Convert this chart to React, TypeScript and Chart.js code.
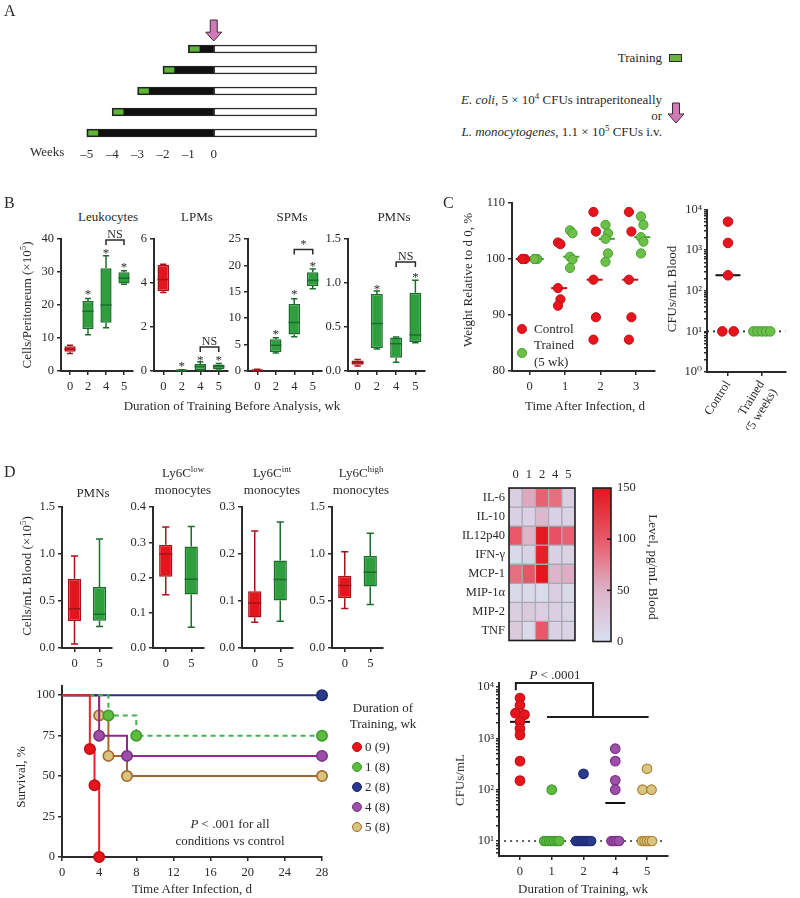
import React, { useEffect, useRef } from 'react';
import { Chart, registerables } from 'chart.js';

Chart.register(...registerables);

const FONT = "'Liberation Serif', 'DejaVu Serif', serif";
const INK = '#2a2a2a';
Chart.defaults.font.family = FONT;
Chart.defaults.color = INK;

/* ================= DATA ================= */
// Panel A – training schedule (weeks relative to infection)
const scheduleStartWk = [-1, -2, -3, -4, -5];
const trainingMarkWk = 0.42;
const followUpWk = 4.05;
const weekTicks = [-5, -4, -3, -2, -1, 0];

// Panel B – peritoneal cells, box stats [min, q1, median, q3, max]
const bWeeks = ['0', '2', '4', '5'];
const bLeukocytes = [[5.3, 5.8, 6.6, 7.5, 7.8], [11, 12.7, 18.1, 21.2, 22], [13.1, 14.6, 20, 31.1, 34.9], [26.3, 26.5, 28.1, 29.9, 30.4]];
const bLPMs = [[3.57, 3.63, 4.16, 4.82, 4.85], [0, 0.01, 0.03, 0.05, 0.06], [0.02, 0.05, 0.2, 0.32, 0.42], [0.05, 0.08, 0.2, 0.3, 0.34]];
const bSPMs = [[0, 0.05, 0.15, 0.3, 0.35], [3.4, 3.6, 4.9, 6.0, 6.3], [6.5, 6.9, 9.2, 12.7, 13.7], [15.6, 16.1, 17.2, 18.7, 19.3]];
const bPMNs = [[0.057, 0.07, 0.095, 0.12, 0.13], [0.25, 0.26, 0.54, 0.875, 0.91], [0.1, 0.15, 0.31, 0.38, 0.385], [0.32, 0.33, 0.41, 0.89, 1.03]];
const bLeukStars = [null, 24, 36.5, 32.2];
const bLPMStars = [null, 0.32, 0.6, 0.6];
const bSPMStars = [null, 7.5, 15.0, 20.4];
const bPMNStars = [null, 0.957, null, 1.09];

// Panel C – weight and blood CFUs
const infectionDays = [0, 1, 2, 3];
const weightControl = [[100, 100, 100, 100, 100], [102.95, 102.65, 94.8, 92.8, 91.65], [108.4, 104.9, 96.3, 89.6, 85.6], [108.4, 104.9, 96.3, 89.6, 85.6]];
const weightTrained = [[100, 100, 100, 100, 100], [105.1, 104.6, 100.4, 99.9, 98.4], [106.1, 104.6, 103.6, 101.0, 99.5], [107.6, 106.1, 103.9, 103.1, 101.0]];
const bloodGroups = ['Control', 'Trained (5 weeks)'];
const bloodControl = [5000, 1500, 240, 10, 10];
const bloodTrained = [10, 10, 10, 10, 10];
const detectionLimit = 10;

// Panel D – blood cells, box stats [min, q1, median, q3, max]
const dWeeks = ['0', '5'];
const dPMNs = [[0.043, 0.286, 0.418, 0.736, 0.98], [0.23, 0.29, 0.36, 0.65, 1.16]];
const dLy6CLow = [[0.151, 0.202, 0.267, 0.293, 0.343], [0.059, 0.152, 0.195, 0.288, 0.345]];
const dLy6CInt = [[0.055, 0.065, 0.096, 0.121, 0.249], [0.057, 0.101, 0.146, 0.186, 0.268]];
const dLy6CHigh = [[0.421, 0.529, 0.664, 0.768, 1.025], [0.464, 0.654, 0.807, 0.979, 1.22]];

// Panel D – cytokine heatmap (pg/mL)
const cytokines = ['IL-6', 'IL-10', 'IL12p40', 'IFN-γ', 'MCP-1', 'MIP-1α', 'MIP-2', 'TNF'];
const heatWeeks = ['0', '1', '2', '4', '5'];
const cytokineLevels = [
  [18, 55, 95, 88, 18],
  [15, 15, 45, 15, 14],
  [100, 48, 148, 105, 95],
  [8, 14, 142, 15, 14],
  [88, 102, 150, 48, 52],
  [8, 8, 5, 18, 8],
  [20, 24, 20, 18, 12],
  [25, 8, 100, 16, 14],
];
const levelTicks = [0, 50, 100, 150];

// Panel D – survival
const survivalLabels = ['0 (9)', '1 (8)', '2 (8)', '4 (8)', '5 (8)'];
const survivalDays = [[0, 3, 3.5, 4], [0, 5, 8, 28], [0, 28], [0, 4, 7, 28], [0, 4, 5, 7, 28]];
const survivalPct = [[100, 66.7, 44.4, 0], [100, 87.5, 75, 75], [100, 100], [100, 75, 62.5, 62.5], [100, 87.5, 62.5, 50, 50]];
const survivalDayTicks = [0, 4, 8, 12, 16, 20, 24, 28];
const survivalPctTicks = [0, 25, 50, 75, 100];

// Panel D – bacterial load
const cfuGroupLabels = ['0', '1', '2', '4', '5'];
const cfuWeek0 = [6100, 4400, 3100, 2900, 2100, 1550, 1170, 360, 150];
const cfuWeek1 = [100, 10, 10, 10, 10, 10, 10, 10];
const cfuWeek2 = [204, 10, 10, 10, 10, 10, 10, 10];
const cfuWeek4 = [630, 360, 152, 100, 10, 10, 10, 10];
const cfuWeek5 = [256, 100, 100, 10, 10, 10, 10, 10];

/* ================= STYLE ================= */
const RED = '#e3161e', RED_D = '#a5121a';
const GREEN = '#2f9f3e', GREEN_D = '#1b6d2b';
const groupFill = ['#e8141c', '#5dbb3f', '#2c3a8e', '#9c4fa6', '#d9c47e'];
const groupEdge = ['#bf1018', '#3f9a2c', '#1e2a70', '#7a2f88', '#a87f32'];
const survLine = ['#ee2128', '#3db54a', '#2e3192', '#92278f', '#a1682a'];
const SUP = ['⁰', '¹', '²', '³', '⁴'];

type Rect = { l: number; t: number; w: number; h: number };
type Plot = { x0: number; y0: number; x1: number; y1: number };

function lay(c: Rect, p: Plot) {
  return {
    padding: { left: 0, top: p.y0 - c.t, right: c.l + c.w - p.x1, bottom: 0 },
    yW: p.x0 - c.l,
    xH: c.t + c.h - p.y1,
  };
}
const fixTicks = (vals: number[]) => (a: any) => { a.ticks = vals.map((v) => ({ value: v })); };
const fixW = (w: number) => (a: any) => { a.width = w; };
const fixH = (h: number) => (a: any) => { a.height = h; };

function axis(o: any) {
  const { ticks = {}, grid = {}, border = {}, ...rest } = o;
  return {
    grid: { display: true, drawOnChartArea: false, drawTicks: true, tickLength: 4, color: INK, lineWidth: 1.5, ...grid },
    border: { display: true, color: INK, width: 2, ...border },
    ticks: { color: INK, font: { family: FONT, size: 12.5 }, padding: 3, autoSkip: false, maxRotation: 0, ...ticks },
    ...rest,
  };
}
function baseOptions(padding: any, scales: any, extra: any = {}) {
  return {
    responsive: false, maintainAspectRatio: false, animation: false, devicePixelRatio: 1, events: [],
    layout: { padding },
    plugins: { legend: { display: false }, tooltip: { enabled: false } },
    scales, ...extra,
  };
}
const median = (arr: number[]) => {
  const s = [...arr].sort((a, b) => a - b);
  const m = Math.floor(s.length / 2);
  return s.length % 2 ? s[m] : (s[m - 1] + s[m]) / 2;
};
function logTicks(from: number, to: number) {
  const out: number[] = [];
  for (let e = 0; e <= 4; e++) for (let m = 1; m <= 9; m++) { const v = m * Math.pow(10, e); if (v >= from - 1e-9 && v <= to + 1e-9) out.push(v); }
  return out;
}
const logLabel = (v: any) => {
  const l = Math.log10(Number(v));
  return Math.abs(l - Math.round(l)) < 1e-6 ? '10' + SUP[Math.round(l)] : '';
};
// spreads points that share (nearly) the same value side by side
function spreadOffsets(values: number[], tol: number, pairStep: number, multiStep: number) {
  const out = values.map(() => 0);
  const used = values.map(() => false);
  for (let i = 0; i < values.length; i++) {
    if (used[i]) continue;
    const grp: number[] = [];
    for (let j = i; j < values.length; j++) {
      if (!used[j] && Math.abs(Math.log10(values[j]) - Math.log10(values[i])) <= tol) { grp.push(j); used[j] = true; }
    }
    const step = grp.length === 2 ? pairStep : multiStep;
    grp.forEach((j, k) => { out[j] = (k - (grp.length - 1) / 2) * step; });
  }
  return out;
}

/* ================= PLUGINS ================= */
function drawDownArrow(ctx: any, x: number, y0: number, y1: number, shaftW: number, headW: number) {
  const headH = (y1 - y0) * 0.42;
  ctx.save();
  ctx.beginPath();
  ctx.moveTo(x - shaftW / 2, y0); ctx.lineTo(x + shaftW / 2, y0); ctx.lineTo(x + shaftW / 2, y1 - headH);
  ctx.lineTo(x + headW / 2, y1 - headH); ctx.lineTo(x, y1); ctx.lineTo(x - headW / 2, y1 - headH);
  ctx.lineTo(x - shaftW / 2, y1 - headH); ctx.closePath();
  ctx.fillStyle = '#d27ab6'; ctx.fill();
  ctx.strokeStyle = '#3b2b38'; ctx.lineWidth = 1; ctx.stroke();
  ctx.restore();
}
const arrowPlugin = {
  id: 'arrowA',
  afterDraw(chart: any) {
    const x = chart.scales.x.getPixelForValue(0);
    const top = chart.chartArea.top;
    drawDownArrow(chart.ctx, x, top - 18.5, top + 2.5, 7, 16);
  },
};
function whiskerPlugin(stats: number[][], edges: string[]) {
  return {
    id: 'whiskers',
    afterDatasetsDraw(chart: any) {
      const meta = chart.getDatasetMeta(0);
      const y = chart.scales.y;
      const ctx = chart.ctx;
      ctx.save();
      meta.data.forEach((bar: any, i: number) => {
        const s = stats[i];
        const { x, width } = bar.getProps(['x', 'width'], true);
        const p = s.map((v) => y.getPixelForValue(v));
        ctx.strokeStyle = edges[i];
        ctx.lineWidth = 1.5;
        ctx.beginPath();
        ctx.moveTo(x, p[3]); ctx.lineTo(x, p[4]);
        ctx.moveTo(x - width * 0.27, p[4]); ctx.lineTo(x + width * 0.27, p[4]);
        ctx.moveTo(x, p[1]); ctx.lineTo(x, p[0]);
        ctx.moveTo(x - width * 0.27, p[0]); ctx.lineTo(x + width * 0.27, p[0]);
        ctx.moveTo(x - width / 2, p[2]); ctx.lineTo(x + width / 2, p[2]);
        ctx.stroke();
      });
      ctx.restore();
    },
  };
}
function markPlugin(stars: (number | null)[], bracket: any) {
  return {
    id: 'marks',
    afterDraw(chart: any) {
      const xs = chart.scales.x, ys = chart.scales.y, ctx = chart.ctx;
      ctx.save();
      ctx.fillStyle = INK; ctx.strokeStyle = INK; ctx.lineWidth = 1.5;
      ctx.font = `13px ${FONT}`; ctx.textAlign = 'center'; ctx.textBaseline = 'alphabetic';
      stars.forEach((v, i) => { if (v !== null) ctx.fillText('*', xs.getPixelForValue(i), ys.getPixelForValue(v) + 6.4); });
      if (bracket) {
        const x1 = xs.getPixelForValue(bracket.a), x2 = xs.getPixelForValue(bracket.b), yy = ys.getPixelForValue(bracket.v);
        ctx.beginPath(); ctx.moveTo(x1, yy + 5); ctx.lineTo(x1, yy); ctx.lineTo(x2, yy); ctx.lineTo(x2, yy + 5); ctx.stroke();
        ctx.font = `12px ${FONT}`;
        ctx.fillText(bracket.text, (x1 + x2) / 2, yy - 2);
      }
      ctx.restore();
    },
  };
}
function framePlugin(tickVals: number[] = []) {
  return {
    id: 'frame',
    afterDatasetsDraw(chart: any) {
      const { left, top, right, bottom } = chart.chartArea;
      const ctx = chart.ctx;
      ctx.save();
      ctx.strokeStyle = '#1e1e1e'; ctx.lineWidth = 1.6;
      ctx.strokeRect(left, top, right - left, bottom - top);
      tickVals.forEach((v) => {
        const y = chart.scales.y.getPixelForValue(v);
        ctx.beginPath(); ctx.moveTo(right - 4, y); ctx.lineTo(right, y); ctx.stroke();
      });
      ctx.restore();
    },
  };
}

/* ================= CONFIGS ================= */
function scheduleConfig() {
  return {
    type: 'bar',
    data: {
      labels: scheduleStartWk.map((_, i) => String(i)),
      datasets: [
        { data: scheduleStartWk.map((s) => [s + 0.04, s + 0.04 + trainingMarkWk]), backgroundColor: '#5fb43c', borderColor: '#1d3a12', borderWidth: 0.8, borderSkipped: false, barThickness: 6, grouped: false, order: 0 },
        { data: scheduleStartWk.map((s) => [s, 0]), backgroundColor: '#111111', borderColor: '#2a2a2a', borderWidth: 1, borderSkipped: false, barThickness: 8, grouped: false, order: 1 },
        { data: scheduleStartWk.map(() => [0, followUpWk]), backgroundColor: '#ffffff', borderColor: '#2a2a2a', borderWidth: 1.5, borderSkipped: false, barThickness: 8, grouped: false, order: 2 },
      ],
    },
    options: baseOptions({ left: 69, right: 7, top: 28.5, bottom: 0 }, {
      x: {
        type: 'linear', min: -5.7, max: 4.5,
        grid: { display: false, drawTicks: false }, border: { display: false },
        ticks: { color: INK, font: { family: FONT, size: 13 }, padding: 3, callback: (v: any) => (v < 0 ? '–' + Math.abs(v) : String(v)) },
        afterBuildTicks: fixTicks(weekTicks), afterFit: fixH(21.5),
      },
      y: { type: 'category', display: false },
    }, { indexAxis: 'y' }),
    plugins: [arrowPlugin],
  };
}

function boxConfig(p: any) {
  const L = lay(p.rect, p.plot);
  const fills = p.stats.map((_: any, i: number) => (i === 0 ? p.c0 : p.c1));
  const edges = p.stats.map((_: any, i: number) => (i === 0 ? p.e0 : p.e1));
  return {
    type: 'bar',
    data: {
      labels: p.labels,
      datasets: [{
        data: p.stats.map((s: number[]) => [s[1], s[3]]),
        backgroundColor: fills, borderColor: edges, borderWidth: 1.5, borderSkipped: false,
        barPercentage: p.barPct, categoryPercentage: 1,
      }],
    },
    options: baseOptions(L.padding, {
      x: axis({ grid: { offset: false }, afterFit: fixH(L.xH), ticks: { padding: 4 } }),
      y: axis({ min: p.min, max: p.max, afterBuildTicks: fixTicks(p.ticks), afterFit: fixW(L.yW), ticks: { callback: (v: any) => Number(v).toFixed(p.dec) } }),
    }),
    plugins: [whiskerPlugin(p.stats, edges), markPlugin(p.stars || [], p.bracket)],
  };
}

function weightConfig() {
  const R: Rect = { l: 450, t: 190, w: 215, h: 200 };
  const L = lay(R, { x0: 512, y0: 203, x1: 657, y1: 371 });
  const pts = (set: number[][], off: number) =>
    set.flatMap((vals, d) => vals.map((v, j) => ({ x: infectionDays[d] + off + (j % 2 ? 0.035 : -0.035), y: v })));
  const meds = (set: number[][], off: number) => set.map((vals, d) => ({ x: infectionDays[d] + off, y: median(vals) }));
  return {
    type: 'scatter',
    data: {
      datasets: [
        { data: pts(weightControl, -0.17), pointRadius: 4.6, pointBorderWidth: 1, pointBackgroundColor: '#e8141c', pointBorderColor: '#c0101a', order: 0 },
        { data: pts(weightTrained, 0.17), pointRadius: 4.6, pointBorderWidth: 1, pointBackgroundColor: '#6cc04a', pointBorderColor: '#45a02f', order: 0 },
        { data: meds(weightControl, -0.17), pointStyle: 'line', pointRadius: 8, pointBorderWidth: 2, pointBorderColor: '#c0101a', order: 1 },
        { data: meds(weightTrained, 0.17), pointStyle: 'line', pointRadius: 8, pointBorderWidth: 2, pointBorderColor: '#45a02f', order: 1 },
      ],
    },
    options: baseOptions(L.padding, {
      x: axis({ type: 'linear', min: -0.5, max: 3.53, afterBuildTicks: fixTicks(infectionDays), afterFit: fixH(L.xH), ticks: { padding: 4 } }),
      y: axis({ type: 'linear', min: 80, max: 110, afterBuildTicks: fixTicks([80, 90, 100, 110]), afterFit: fixW(L.yW) }),
    }),
  };
}

function bloodConfig() {
  const R: Rect = { l: 675, t: 195, w: 125, h: 235 };
  const L = lay(R, { x0: 707, y0: 208, x1: 800, y1: 372 });
  const pxPerUnit = 40;
  const mk = (vals: number[], g: number) => {
    const off = spreadOffsets(vals, 0.05, 13.4, 5);
    return vals.map((v, j) => ({ x: g + off[j] / pxPerUnit, y: v }));
  };
  const medLines = [bloodControl, bloodTrained]
    .map((vals, g) => ({ x: g, y: median(vals) }))
    .filter((p) => p.y > detectionLimit);
  return {
    type: 'scatter',
    data: {
      datasets: [
        { data: mk(bloodControl, 0), pointRadius: 4.8, pointBorderWidth: 1, pointBackgroundColor: '#e8141c', pointBorderColor: '#c0101a', order: 0 },
        { data: mk(bloodTrained, 1), pointRadius: 4.8, pointBorderWidth: 1, pointBackgroundColor: '#6cc04a', pointBorderColor: '#45a02f', order: 0 },
        { data: medLines, pointStyle: 'line', pointRadius: 12.5, pointBorderWidth: 2, pointBorderColor: '#111', order: 1 },
        { data: [{ x: -0.62, y: detectionLimit }, { x: 1.7, y: detectionLimit }], showLine: true, pointRadius: 0, borderColor: INK, borderWidth: 1.6, borderDash: [2, 4], order: 2 },
      ],
    },
    options: baseOptions(L.padding, {
      x: axis({
        type: 'linear', min: -0.62, max: 1.7, afterBuildTicks: fixTicks([0, 1]), afterFit: fixH(L.xH),
        ticks: { minRotation: 58, maxRotation: 58, padding: 2, callback: (v: any) => (v === 0 ? bloodGroups[0] : ['Trained', '(5 weeks)']) },
      }),
      y: axis({
        type: 'logarithmic', min: 1, max: 10000, afterBuildTicks: fixTicks(logTicks(1, 10000)), afterFit: fixW(L.yW),
        grid: { tickLength: 3 }, ticks: { callback: logLabel, padding: 2 },
      }),
    }),
  };
}

function cmap(v: number) {
  const stops: [number, number[]][] = [[0, [216, 224, 240]], [50, [221, 178, 200]], [100, [232, 88, 104]], [150, [229, 20, 30]]];
  for (let i = 1; i < stops.length; i++) {
    if (v <= stops[i][0]) {
      const [a, ca] = stops[i - 1], [b, cb] = stops[i];
      const t = Math.max(0, (v - a) / (b - a));
      const c = ca.map((x, k) => Math.round(x + (cb[k] - x) * t));
      return `rgb(${c[0]},${c[1]},${c[2]})`;
    }
  }
  return 'rgb(229,20,30)';
}

function heatConfig() {
  const R: Rect = { l: 455, t: 462, w: 125, h: 190 };
  const P = { x0: 509, y0: 488, x1: 575, y1: 646 };
  return {
    type: 'bar',
    data: {
      labels: heatWeeks,
      datasets: cytokineLevels.map((row, r) => ({
        data: row.map(() => [r, r + 1]),
        backgroundColor: row.map((v) => cmap(v)),
        borderColor: '#a9a9b2', borderWidth: 1, borderSkipped: false,
        grouped: false, barPercentage: 1, categoryPercentage: 1,
      })),
    },
    options: baseOptions({ left: 0, top: 0, right: R.l + R.w - P.x1, bottom: R.t + R.h - P.y1 }, {
      x: { type: 'category', position: 'top', grid: { display: false, drawTicks: false }, border: { display: false }, ticks: { color: INK, font: { family: FONT, size: 12.5 }, padding: 6 }, afterFit: fixH(P.y0 - R.t) },
      y: {
        type: 'linear', min: 0, max: 8, reverse: true, grid: { display: false, drawTicks: false }, border: { display: false },
        afterBuildTicks: fixTicks(cytokines.map((_, i) => i + 0.5)), afterFit: fixW(P.x0 - R.l),
        ticks: { color: INK, font: { family: FONT, size: 12.5 }, padding: 4, autoSkip: false, callback: (v: any) => cytokines[Math.floor(Number(v))] },
      },
    }),
    plugins: [framePlugin()],
  };
}

function colorbarConfig() {
  const R: Rect = { l: 590, t: 470, w: 75, h: 185 };
  const P = { x0: 593, y0: 488, x1: 611, y1: 646 };
  return {
    type: 'bar',
    data: {
      labels: ['level'],
      datasets: [{
        data: [[levelTicks[0], levelTicks[levelTicks.length - 1]]],
        backgroundColor: (c: any) => {
          const area = c.chart.chartArea;
          if (!area) return '#ddd';
          const g = c.chart.ctx.createLinearGradient(0, area.bottom, 0, area.top);
          [0, 25, 50, 75, 100, 125, 150].forEach((v) => g.addColorStop(v / 150, cmap(v)));
          return g;
        },
        borderWidth: 0, barPercentage: 1, categoryPercentage: 1,
      }],
    },
    options: baseOptions({ left: P.x0 - R.l, top: P.y0 - R.t, right: 0, bottom: R.t + R.h - P.y1 }, {
      x: { type: 'category', display: false },
      y: {
        type: 'linear', position: 'right', min: 0, max: 150, grid: { display: false, drawTicks: false }, border: { display: false },
        afterBuildTicks: fixTicks(levelTicks), afterFit: fixW(R.l + R.w - P.x1),
        ticks: { color: INK, font: { family: FONT, size: 12.5 }, padding: 6 },
      },
    }),
    plugins: [framePlugin([50, 100])],
  };
}

function survivalConfig() {
  const R: Rect = { l: 15, t: 675, w: 330, h: 223 };
  const L = lay(R, { x0: 62, y0: 683, x1: 322, y1: 857 });
  return {
    type: 'line',
    data: {
      datasets: survivalDays.map((days, g) => ({
        data: days.map((d, k) => ({ x: d, y: survivalPct[g][k] })),
        stepped: true,
        borderColor: survLine[g], borderWidth: 2, borderDash: g === 1 ? [5, 4] : [],
        pointRadius: days.map((_, k) => (k === 0 ? 0 : 5.2)),
        pointBackgroundColor: groupFill[g], pointBorderColor: g === 4 ? '#a1682a' : groupEdge[g], pointBorderWidth: 1.6,
        clip: false,
      })),
    },
    options: baseOptions(L.padding, {
      x: axis({ type: 'linear', min: 0, max: 28, afterBuildTicks: fixTicks(survivalDayTicks), afterFit: fixH(L.xH), ticks: { padding: 4 } }),
      y: axis({ type: 'linear', min: 0, max: 106, afterBuildTicks: fixTicks(survivalPctTicks), afterFit: fixW(L.yW) }),
    }),
  };
}

function cfuConfig() {
  const R: Rect = { l: 465, t: 660, w: 215, h: 238 };
  const L = lay(R, { x0: 499, y0: 683, x1: 668, y1: 856 });
  const pxPerUnit = 31.75;
  const groups = [cfuWeek0, cfuWeek1, cfuWeek2, cfuWeek4, cfuWeek5];
  const pointSets = groups.map((vals, g) => {
    const off = spreadOffsets(vals, 0.05, 9, 2.5);
    return {
      data: vals.map((v, j) => ({ x: g + off[j] / pxPerUnit, y: v })),
      pointRadius: 4.8, pointBorderWidth: 1.1, pointBackgroundColor: groupFill[g], pointBorderColor: groupEdge[g], order: 0,
    };
  });
  const medLines = groups.map((vals, g) => ({ x: g, y: median(vals) })).filter((p) => p.y > detectionLimit);
  const sigPlugin = {
    id: 'sig',
    afterDraw(chart: any) {
      const xs = chart.scales.x, ys = chart.scales.y, ctx = chart.ctx;
      const top = ys.getPixelForValue(12000);
      const xl = xs.getPixelForValue(-0.13), yl = ys.getPixelForValue(8700);
      const xr = xs.getPixelForValue(2.3), yr = ys.getPixelForValue(2600);
      const xa = xs.getPixelForValue(0.85), xb = xs.getPixelForValue(4.05);
      ctx.save();
      ctx.strokeStyle = '#1e1e1e'; ctx.lineWidth = 2;
      ctx.beginPath();
      ctx.moveTo(xl, yl); ctx.lineTo(xl, top); ctx.lineTo(xr, top); ctx.lineTo(xr, yr);
      ctx.moveTo(xa, yr); ctx.lineTo(xb, yr);
      ctx.stroke();
      ctx.restore();
    },
  };
  return {
    type: 'scatter',
    data: {
      datasets: [
        ...pointSets,
        { data: medLines, pointStyle: 'line', pointRadius: 10, pointBorderWidth: 2, pointBorderColor: '#111', order: 1 },
        { data: [{ x: -0.5, y: detectionLimit }, { x: 4.55, y: detectionLimit }], showLine: true, pointRadius: 0, borderColor: INK, borderWidth: 1.6, borderDash: [2, 4], order: 2 },
      ],
    },
    options: baseOptions(L.padding, {
      x: axis({
        type: 'linear', min: -0.66, max: 4.66, afterBuildTicks: fixTicks([0, 1, 2, 3, 4]), afterFit: fixH(L.xH),
        ticks: { padding: 4, callback: (v: any) => cfuGroupLabels[Number(v)] },
      }),
      y: axis({
        type: 'logarithmic', min: 5.1, max: 12000, afterBuildTicks: fixTicks(logTicks(6, 10000)), afterFit: fixW(L.yW),
        grid: { tickLength: 3 }, ticks: { callback: logLabel, padding: 2 },
      }),
    }),
    plugins: [sigPlugin],
  };
}

/* ================= COMPONENTS ================= */
function ChartCanvas({ rect, make }: { rect: Rect; make: () => any }) {
  const ref = useRef<HTMLCanvasElement>(null);
  useEffect(() => {
    const chart = new Chart(ref.current as HTMLCanvasElement, make());
    return () => chart.destroy();
  }, []);
  return <canvas ref={ref} width={rect.w} height={rect.h} style={{ position: 'absolute', left: rect.l, top: rect.t, width: rect.w, height: rect.h }} />;
}

function Txt({ x, y, children, size = 13, anchor = 'center', rotate = 0, italic = false, weight = 400 }: any) {
  const tx = anchor === 'center' ? '-50%' : anchor === 'end' ? '-100%' : '0%';
  return (
    <div style={{
      position: 'absolute', left: x, top: y, transform: `translate(${tx}, -50%) rotate(${rotate}deg)`,
      fontSize: size, fontFamily: FONT, color: INK, whiteSpace: 'nowrap', lineHeight: 1.1,
      fontStyle: italic ? 'italic' : 'normal', fontWeight: weight,
    }}>{children}</div>
  );
}
const Sup = ({ children }: any) => <sup style={{ fontSize: '0.68em', lineHeight: 0, verticalAlign: '0.5em' }}>{children}</sup>;

function Dot({ x, y, fill, edge, r = 5 }: any) {
  return <div style={{ position: 'absolute', left: x - r, top: y - r, width: 2 * r, height: 2 * r, borderRadius: '50%', background: fill, boxSizing: 'border-box', border: `1.5px solid ${edge}` }} />;
}

const B_TOP = 225, B_H = 175;
const D_TOP = 495, D_H = 175;

export default function App() {
  const bPlotY = { y0: 239, y1: 371 };
  const dPlotY = { y0: 507, y1: 648 };
  const bRects: Rect[] = [
    { l: 20, t: B_TOP, w: 120, h: B_H },
    { l: 135, t: B_TOP, w: 100, h: B_H },
    { l: 225, t: B_TOP, w: 105, h: B_H },
    { l: 320, t: B_TOP, w: 115, h: B_H },
  ];
  const dRects: Rect[] = [
    { l: 20, t: D_TOP, w: 100, h: D_H },
    { l: 118, t: D_TOP, w: 95, h: D_H },
    { l: 208, t: D_TOP, w: 95, h: D_H },
    { l: 298, t: D_TOP, w: 95, h: D_H },
  ];
  const bBase = { labels: bWeeks, c0: RED, e0: RED_D, c1: GREEN, e1: GREEN_D, barPct: 0.62 };
  const dBase = { labels: dWeeks, c0: RED, e0: RED_D, c1: GREEN, e1: GREEN_D, barPct: 0.52 };

  return (
    <div style={{ position: 'absolute', left: 0, top: 0, width: 800, height: 898, background: '#ffffff', overflow: 'hidden' }}>
      {/* Panel A */}
      <ChartCanvas rect={{ l: 0, t: 10, w: 335, h: 155 }} make={scheduleConfig} />

      {/* Panel B */}
      <ChartCanvas rect={bRects[0]} make={() => boxConfig({ ...bBase, rect: bRects[0], plot: { x0: 61, x1: 133, ...bPlotY }, stats: bLeukocytes, min: 0, max: 40, ticks: [0, 10, 20, 30, 40], dec: 0, stars: bLeukStars, bracket: { a: 2, b: 3, v: 39.7, text: 'NS' } })} />
      <ChartCanvas rect={bRects[1]} make={() => boxConfig({ ...bBase, rect: bRects[1], plot: { x0: 154, x1: 228, ...bPlotY }, stats: bLPMs, min: 0, max: 6, ticks: [0, 2, 4, 6], dec: 0, stars: bLPMStars, bracket: { a: 2, b: 3, v: 1.09, text: 'NS' } })} />
      <ChartCanvas rect={bRects[2]} make={() => boxConfig({ ...bBase, rect: bRects[2], plot: { x0: 248, x1: 322, ...bPlotY }, stats: bSPMs, min: 0, max: 25, ticks: [0, 5, 10, 15, 20, 25], dec: 0, stars: bSPMStars, bracket: { a: 2, b: 3, v: 23.0, text: '*' } })} />
      <ChartCanvas rect={bRects[3]} make={() => boxConfig({ ...bBase, rect: bRects[3], plot: { x0: 348, x1: 425, ...bPlotY }, stats: bPMNs, min: 0, max: 1.5, ticks: [0, 0.5, 1.0, 1.5], dec: 1, stars: bPMNStars, bracket: { a: 2, b: 3, v: 1.24, text: 'NS' } })} />

      {/* Panel C */}
      <ChartCanvas rect={{ l: 450, t: 190, w: 215, h: 200 }} make={weightConfig} />
      <ChartCanvas rect={{ l: 675, t: 195, w: 125, h: 235 }} make={bloodConfig} />

      {/* Panel D boxes */}
      <ChartCanvas rect={dRects[0]} make={() => boxConfig({ ...dBase, rect: dRects[0], plot: { x0: 62, x1: 112, ...dPlotY }, stats: dPMNs, min: 0, max: 1.5, ticks: [0, 0.5, 1.0, 1.5], dec: 1 })} />
      <ChartCanvas rect={dRects[1]} make={() => boxConfig({ ...dBase, rect: dRects[1], plot: { x0: 153, x1: 204, ...dPlotY }, stats: dLy6CLow, min: 0, max: 0.4, ticks: [0, 0.1, 0.2, 0.3, 0.4], dec: 1 })} />
      <ChartCanvas rect={dRects[2]} make={() => boxConfig({ ...dBase, rect: dRects[2], plot: { x0: 242, x1: 293, ...dPlotY }, stats: dLy6CInt, min: 0, max: 0.3, ticks: [0, 0.1, 0.2, 0.3], dec: 1 })} />
      <ChartCanvas rect={dRects[3]} make={() => boxConfig({ ...dBase, rect: dRects[3], plot: { x0: 332, x1: 383, ...dPlotY }, stats: dLy6CHigh, min: 0, max: 1.5, ticks: [0, 0.5, 1.0, 1.5], dec: 1 })} />

      {/* Heatmap */}
      <ChartCanvas rect={{ l: 455, t: 462, w: 125, h: 190 }} make={heatConfig} />
      <ChartCanvas rect={{ l: 590, t: 470, w: 75, h: 185 }} make={colorbarConfig} />

      {/* Survival */}
      <ChartCanvas rect={{ l: 15, t: 675, w: 330, h: 223 }} make={survivalConfig} />
      {/* CFU */}
      <ChartCanvas rect={{ l: 465, t: 660, w: 215, h: 238 }} make={cfuConfig} />

      {/* ---------- texts ---------- */}
      <Txt x={4} y={11} size={16} anchor="start">A</Txt>
      <Txt x={30} y={152} anchor="start">Weeks</Txt>
      <Txt x={662} y={58} anchor="end">Training</Txt>
      <div style={{ position: 'absolute', left: 669, top: 54, width: 13, height: 8, background: '#6ab43e', border: '1.5px solid #2a2a2a', boxSizing: 'border-box' }} />
      <Txt x={662} y={100} anchor="end"><i>E. coli</i>, 5 × 10<Sup>4</Sup> CFUs intraperitoneally</Txt>
      <Txt x={662} y={116} anchor="end">or</Txt>
      <Txt x={662} y={132} anchor="end"><i>L. monocytogenes</i>, 1.1 × 10<Sup>5</Sup> CFUs i.v.</Txt>
      <svg style={{ position: 'absolute', left: 667, top: 102 }} width={18} height={22}>
        <path d="M5.5 1 H12.5 V12 H17 L9 21 L1 12 H5.5 Z" fill="#d27ab6" stroke="#3b2b38" strokeWidth={1} />
      </svg>

      <Txt x={4} y={203} size={16} anchor="start">B</Txt>
      <Txt x={108} y={217}>Leukocytes</Txt>
      <Txt x={197} y={217}>LPMs</Txt>
      <Txt x={292} y={217}>SPMs</Txt>
      <Txt x={394} y={217}>PMNs</Txt>
      <Txt x={27} y={305} rotate={-90}>Cells/Peritoneum (×10<Sup>5</Sup>)</Txt>
      <Txt x={232} y={406}>Duration of Training Before Analysis, wk</Txt>

      <Txt x={443} y={203} size={16} anchor="start">C</Txt>
      <Txt x={468} y={280} rotate={-90}>Weight Relative to d 0, %</Txt>
      <Txt x={585} y={406}>Time After Infection, d</Txt>
      <Dot x={522} y={329} fill="#e8141c" edge="#c0101a" r={4.8} />
      <Txt x={534} y={329} anchor="start">Control</Txt>
      <Dot x={522} y={353} fill="#6cc04a" edge="#45a02f" r={4.8} />
      <Txt x={534} y={345} anchor="start">Trained</Txt>
      <Txt x={534} y={362} anchor="start">(5 wk)</Txt>
      <Txt x={672} y={289} rotate={-90}>CFUs/mL Blood</Txt>

      <Txt x={4} y={472} size={16} anchor="start">D</Txt>
      <Txt x={93} y={493}>PMNs</Txt>
      <Txt x={183} y={473}>Ly6C<Sup>low</Sup></Txt>
      <Txt x={183} y={490}>monocytes</Txt>
      <Txt x={272} y={473}>Ly6C<Sup>int</Sup></Txt>
      <Txt x={272} y={490}>monocytes</Txt>
      <Txt x={361} y={473}>Ly6C<Sup>high</Sup></Txt>
      <Txt x={361} y={490}>monocytes</Txt>
      <Txt x={27} y={576} rotate={-90}>Cells/mL Blood (×10<Sup>5</Sup>)</Txt>
      <Txt x={653} y={567} rotate={90}>Level, pg/mL Blood</Txt>

      <Txt x={21} y={777} rotate={-90}>Survival, %</Txt>
      <Txt x={192} y={889}>Time After Infection, d</Txt>
      <Txt x={230} y={824}><i>P</i> &lt; .001 for all</Txt>
      <Txt x={230} y={841}>conditions vs control</Txt>
      <Txt x={383} y={708}>Duration of</Txt>
      <Txt x={383} y={724}>Training, wk</Txt>
      {survivalLabels.map((lab, g) => (
        <React.Fragment key={lab}>
          <Dot x={357} y={747 + g * 20} fill={groupFill[g]} edge={g === 4 ? '#a1682a' : groupEdge[g]} r={5} />
          <Txt x={365} y={747 + g * 20} anchor="start">{lab}</Txt>
        </React.Fragment>
      ))}

      <Txt x={555} y={675}><i>P</i> &lt; .0001</Txt>
      <Txt x={460} y={780} rotate={-90}>CFUs/mL</Txt>
      <Txt x={583} y={889}>Duration of Training, wk</Txt>
    </div>
  );
}
